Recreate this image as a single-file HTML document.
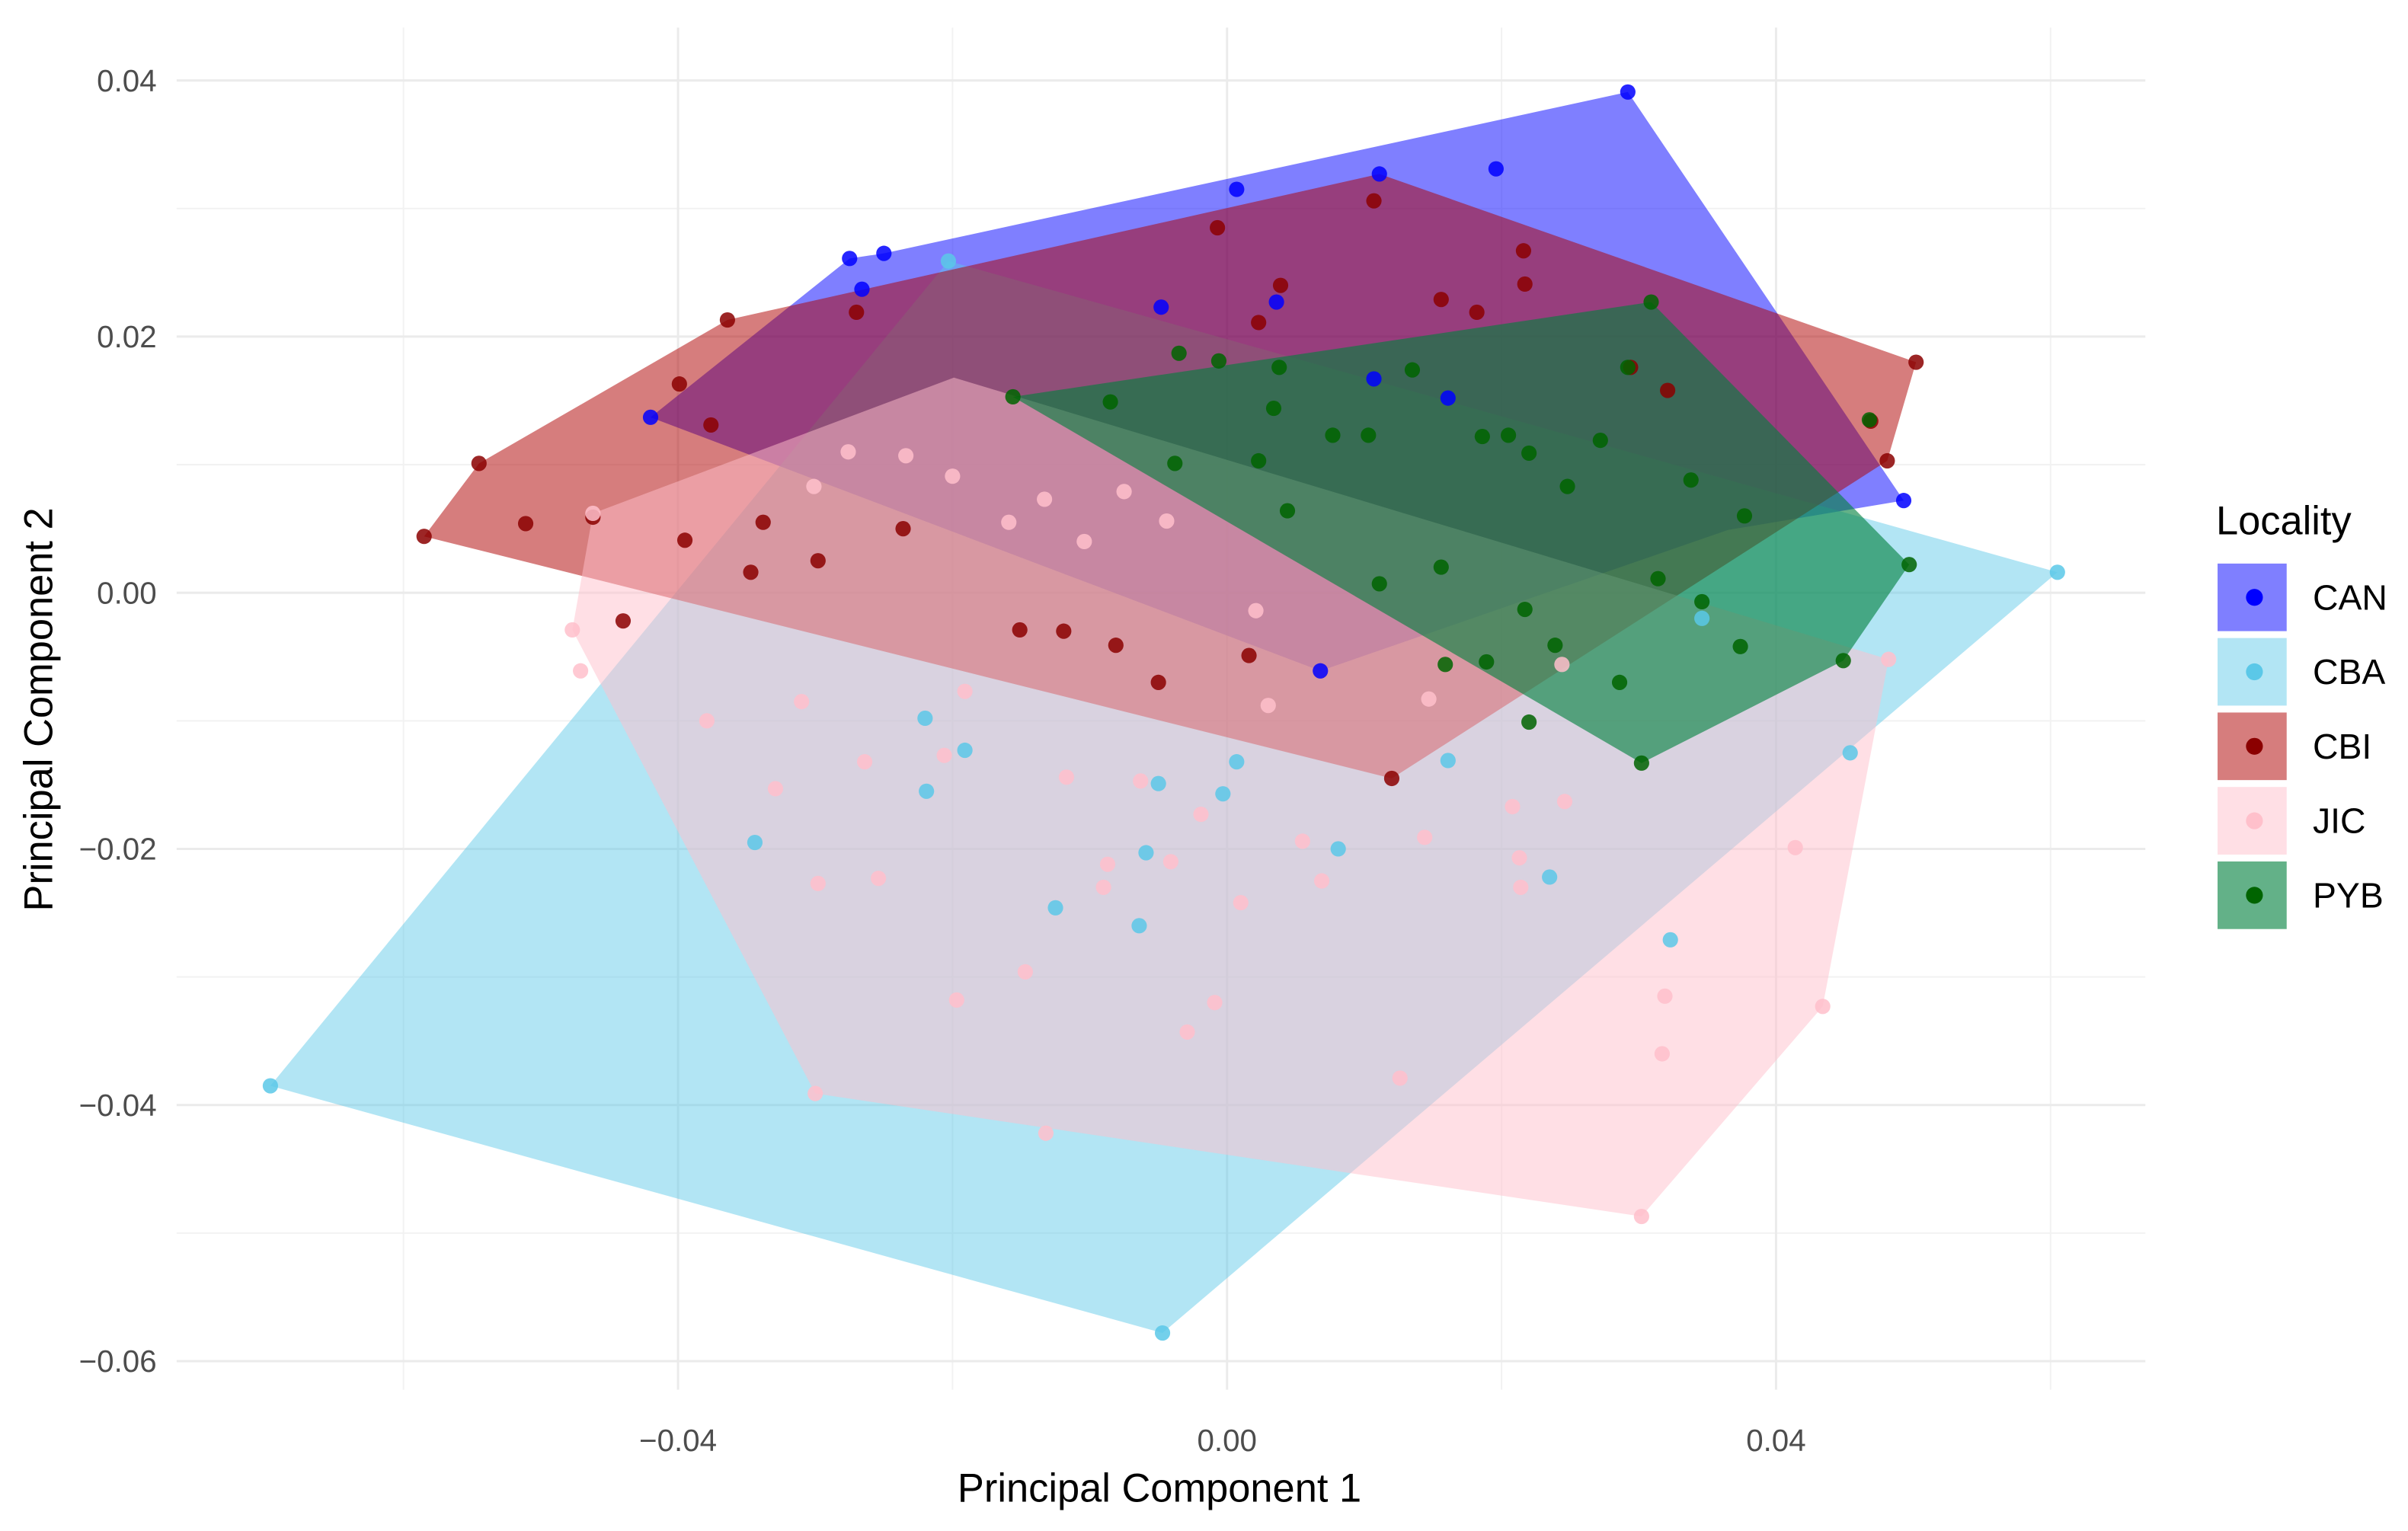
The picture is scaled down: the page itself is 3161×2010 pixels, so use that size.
<!DOCTYPE html>
<html><head><meta charset="utf-8"><style>html,body{margin:0;padding:0;background:#fff}svg{display:block}</style></head>
<body>
<svg id="chart" xmlns="http://www.w3.org/2000/svg" width="3161" height="2010" viewBox="0 0 1568 997" preserveAspectRatio="none" font-family="Liberation Sans, Arial, sans-serif">
<g id="grid"></g>
<g id="hulls"></g>
<g id="points"></g>
<g id="axes"></g>
<text x="755" y="978" text-anchor="middle" font-size="26" fill="#000">Principal Component 1</text>
<text transform="translate(34,462) rotate(-90)" text-anchor="middle" font-size="26" fill="#000">Principal Component 2</text>
<g id="legend">
<text x="1443" y="348" font-size="26" fill="#000">Locality</text>
</g>
</svg>
<script>
const xTicks=[-0.04,0,0.04];
const xMinor=[-0.06,-0.02,0.02,0.06];
const yTicks=[-0.06,-0.04,-0.02,0,0.02,0.04];
const yMinor=[-0.05,-0.03,-0.01,0.01,0.03];
const xTickLabels=["\u22120.04","0.00","0.04"];
const yTickLabels=["\u22120.06","\u22120.04","\u22120.02","0.00","0.02","0.04"];
const groups=["CAN","CBA","CBI","JIC","PYB"];
const canHull=[[-0.0420,0.0137],[-0.0275,0.0261],[-0.0250,0.0265],[0.0292,0.0391],[0.0493,0.0072],[0.0365,0.0049],[0.0068,-0.0061]];
const cbaHull=[[-0.0697,-0.0385],[-0.0203,0.0259],[0.0605,0.0016],[-0.0047,-0.0578]];
const cbiHull=[[-0.0585,0.0044],[-0.0545,0.0101],[-0.0364,0.0213],[0.0111,0.0327],[0.0502,0.0180],[0.0481,0.0103],[0.0120,-0.0145]];
const jicHull=[[-0.0462,0.0062],[-0.0199,0.0168],[0.0482,-0.0052],[0.0434,-0.0323],[0.0302,-0.0487],[-0.0300,-0.0391],[-0.0477,-0.0029]];
const pybHull=[[-0.0156,0.0153],[0.0309,0.0227],[0.0497,0.0022],[0.0449,-0.0053],[0.0302,-0.0133]];
const canPts=[[-0.0275,0.0261],[-0.0250,0.0265],[-0.0266,0.0237],[0.0292,0.0391],[0.0196,0.0331],[0.0007,0.0315],[0.0111,0.0327],[-0.0420,0.0137],[0.0493,0.0072],[-0.0048,0.0223],[0.0036,0.0227],[0.0107,0.0167],[0.0161,0.0152],[0.0068,-0.0061]];
const cbaPts=[[-0.0697,-0.0385],[-0.0203,0.0259],[0.0605,0.0016],[-0.0047,-0.0578],[-0.0344,-0.0195],[-0.0220,-0.0098],[-0.0191,-0.0123],[-0.0219,-0.0155],[-0.0125,-0.0246],[-0.0059,-0.0203],[-0.0064,-0.0260],[-0.0050,-0.0149],[0.0007,-0.0132],[-0.0003,-0.0157],[0.0081,-0.0200],[0.0235,-0.0222],[0.0323,-0.0271],[0.0454,-0.0125],[0.0161,-0.0131],[0.0346,-0.0020]];
const cbiPts=[[-0.0585,0.0044],[-0.0545,0.0101],[-0.0511,0.0054],[-0.0399,0.0163],[-0.0364,0.0213],[-0.0376,0.0131],[-0.0270,0.0219],[-0.0007,0.0285],[0.0107,0.0306],[0.0039,0.0240],[0.0023,0.0211],[0.0156,0.0229],[0.0182,0.0219],[0.0216,0.0267],[0.0217,0.0241],[0.0502,0.0180],[0.0469,0.0134],[0.0481,0.0103],[0.0294,0.0176],[0.0321,0.0158],[0.0120,-0.0145],[-0.0298,0.0025],[-0.0347,0.0016],[-0.0395,0.0041],[-0.0338,0.0055],[-0.0236,0.0050],[-0.0151,-0.0029],[-0.0081,-0.0041],[-0.0050,-0.0070],[0.0016,-0.0049],[-0.0119,-0.0030],[-0.0440,-0.0022],[-0.0462,0.0059]];
const jicPts=[[-0.0462,0.0062],[-0.0477,-0.0029],[-0.0471,-0.0061],[-0.0300,-0.0391],[0.0302,-0.0487],[0.0434,-0.0323],[0.0482,-0.0052],[0.0414,-0.0199],[0.0319,-0.0315],[0.0317,-0.0360],[0.0126,-0.0379],[-0.0132,-0.0422],[-0.0197,-0.0318],[-0.0147,-0.0296],[-0.0254,-0.0223],[-0.0298,-0.0227],[-0.0379,-0.0100],[-0.0329,-0.0153],[-0.0310,-0.0085],[-0.0264,-0.0132],[-0.0206,-0.0127],[-0.0117,-0.0144],[-0.0087,-0.0212],[-0.0090,-0.0230],[-0.0063,-0.0147],[-0.0019,-0.0173],[-0.0041,-0.0210],[0.0010,-0.0242],[-0.0009,-0.0320],[-0.0029,-0.0343],[0.0069,-0.0225],[0.0055,-0.0194],[0.0144,-0.0191],[0.0213,-0.0207],[0.0208,-0.0167],[0.0246,-0.0163],[0.0214,-0.0230],[-0.0191,-0.0077],[-0.0159,0.0055],[-0.0234,0.0107],[-0.0276,0.0110],[-0.0301,0.0083],[-0.0200,0.0091],[-0.0133,0.0073],[-0.0104,0.0040],[-0.0075,0.0079],[-0.0044,0.0056],[0.0021,-0.0014],[0.0030,-0.0088],[0.0147,-0.0083],[0.0244,-0.0056]];
const pybPts=[[-0.0156,0.0153],[0.0309,0.0227],[0.0497,0.0022],[0.0449,-0.0053],[0.0302,-0.0133],[-0.0035,0.0187],[-0.0006,0.0181],[0.0038,0.0176],[0.0135,0.0174],[0.0292,0.0176],[0.0338,0.0088],[0.0377,0.0060],[0.0468,0.0135],[0.0286,-0.0070],[0.0220,-0.0101],[0.0159,-0.0056],[0.0034,0.0144],[0.0077,0.0123],[0.0103,0.0123],[0.0186,0.0122],[0.0220,0.0109],[0.0248,0.0083],[0.0272,0.0119],[0.0205,0.0123],[0.0044,0.0064],[0.0023,0.0103],[-0.0038,0.0101],[-0.0085,0.0149],[0.0156,0.0020],[0.0111,0.0007],[0.0314,0.0011],[0.0346,-0.0007],[0.0374,-0.0042],[0.0189,-0.0054],[0.0217,-0.0013],[0.0239,-0.0041]];

const NS="http://www.w3.org/2000/svg";
const X0=115,X1=1397,Y0=18,Y1=905;
function xs(v){return 799+v*8937.5;}
function ys(v){return 386-v*8340;}
function mk(tag,attrs,parent){const e=document.createElementNS(NS,tag);for(const k in attrs)e.setAttribute(k,attrs[k]);parent.appendChild(e);return e;}
const grid=document.getElementById('grid');
xMinor.forEach(v=>{const l=mk('line',{x1:xs(v),x2:xs(v),y1:Y0,y2:Y1,stroke:'#f2f2f2','stroke-width':1},grid);

});
yMinor.forEach(v=>{const l=mk('line',{x1:X0,x2:X1,y1:ys(v),y2:ys(v),stroke:'#f2f2f2','stroke-width':1},grid);

});
xTicks.forEach(v=>{const l=mk('line',{x1:xs(v),x2:xs(v),y1:Y0,y2:Y1,stroke:'#ebebeb','stroke-width':1.5},grid);

});
yTicks.forEach(v=>{const l=mk('line',{x1:X0,x2:X1,y1:ys(v),y2:ys(v),stroke:'#ebebeb','stroke-width':1.5},grid);

});
const axes=document.getElementById('axes');
xTicks.forEach((v,i)=>{const t=mk('text',{x:xs(v),y:945,'text-anchor':'middle','font-size':20,fill:'#4d4d4d'},axes);t.textContent=xTickLabels[i];

});
yTicks.forEach((v,i)=>{const t=mk('text',{x:102,y:ys(v)+7,'text-anchor':'end','font-size':20,fill:'#4d4d4d'},axes);t.textContent=yTickLabels[i];

});
const hullData=[canHull,cbaHull,cbiHull,jicHull,pybHull];
const ptData=[canPts,cbaPts,cbiPts,jicPts,pybPts];
const fills=['#0000ff','#5bc8e8','#af0000','#ffc0cb','#00803c'];
const alphas=[0.5,0.47,0.51,0.5,0.61];
const ptCols=['#0000ff','#5bc8e8','#8b0000','#ffc0cb','#006400'];
const hulls=document.getElementById('hulls');
hullData.forEach((h,i)=>{const p=mk('polygon',{points:h.map(d=>xs(d[0])+','+ys(d[1])).join(' '),fill:fills[i],'fill-opacity':alphas[i]},hulls);

});
const pts=document.getElementById('points');
ptData.forEach((arr,i)=>{arr.forEach(d=>{const c=mk('circle',{cx:xs(d[0]),cy:ys(d[1]),r:5,fill:ptCols[i],'fill-opacity':0.85},pts);

});});
const leg=document.getElementById('legend');
groups.forEach((g,i)=>{const y=367+i*48.5;
const r=mk('rect',{x:1444,y:y,width:45,height:44,fill:fills[i],'fill-opacity':alphas[i]},leg);


const c=mk('circle',{cx:1468,cy:y+22,r:5.5,fill:ptCols[i]},leg);


const t=mk('text',{x:1506,y:y+30,'font-size':23,fill:'#000'},leg);t.textContent=g;

});
</script>
</body></html>
